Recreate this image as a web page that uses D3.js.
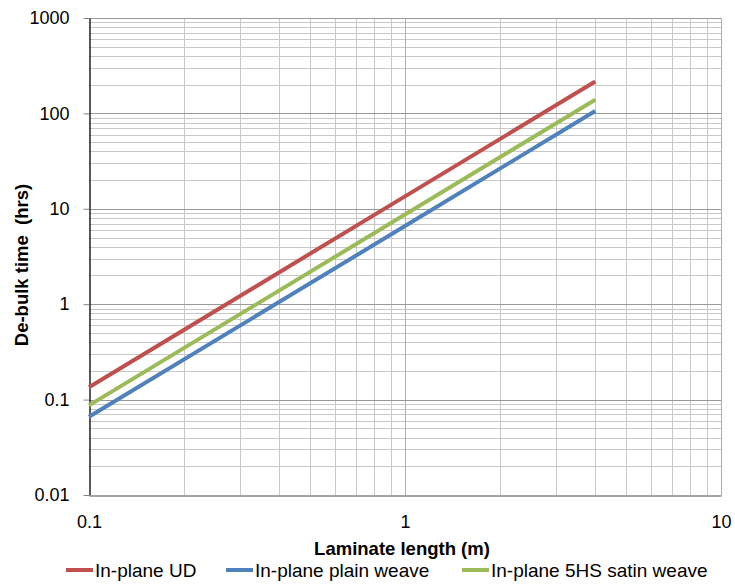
<!DOCTYPE html>
<html>
<head>
<meta charset="utf-8">
<script src="https://cdn.jsdelivr.net/npm/d3@7"></script>
<style>
  html, body { margin: 0; padding: 0; background: #fff; }
  svg { display: block; font-family: "Liberation Sans", Arial, sans-serif; }
</style>
</head>
<body>
<svg id="chart" width="735" height="584"></svg>
<script>
// ---- data ----
const lengths = [0.1, 1, 4];                 // laminate length (m)
const inPlaneUD = [0.135, 13.5, 216];        // de-bulk time (hrs)
const inPlanePlain = [0.066, 6.6, 106];
const inPlaneSatin = [0.087, 8.7, 139];
const seriesNames = ["In-plane UD", "In-plane plain weave", "In-plane 5HS satin weave"];
const seriesColors = ["#C0504D", "#4F81BD", "#9BBB59"];
const xTickValues = [0.1, 1, 10];
const xTickLabels = ["0.1", "1", "10"];
const yTickValues = [0.01, 0.1, 1, 10, 100, 1000];
const yTickLabels = ["0.01", "0.1", "1", "10", "100", "1000"];

(function () {
const svg = d3.select("#chart");
const pLeft = 89, pRight = 721, pTop = 18, pBottom = 495;

const x = d3.scaleLog().domain([0.1, 10]).range([pLeft, pRight]);
const y = d3.scaleLog().domain([0.01, 1000]).range([pBottom, pTop]);

// minor / major gridline values
const xMinor = [], yMinor = [];
for (let d = 0.1; d < 10; d *= 10) for (let k = 2; k <= 9; k++) xMinor.push(+(d * k).toPrecision(3));
for (let d = 0.01; d < 1000; d *= 10) for (let k = 2; k <= 9; k++) yMinor.push(+(d * k).toPrecision(3));

const grid = svg.append("g");
grid.selectAll("line.xmin").data(xMinor).join("line")
  .attr("x1", d => Math.round(x(d)) + 0.5).attr("x2", d => Math.round(x(d)) + 0.5)
  .attr("y1", pTop).attr("y2", pBottom)
  .attr("stroke", "#c8c8c8").attr("stroke-width", 1);
grid.selectAll("line.ymin").data(yMinor).join("line")
  .attr("y1", d => Math.round(y(d)) + 0.5).attr("y2", d => Math.round(y(d)) + 0.5)
  .attr("x1", pLeft).attr("x2", pRight)
  .attr("stroke", "#c8c8c8").attr("stroke-width", 1);
grid.selectAll("line.xmaj").data(xTickValues.slice(1)).join("line")
  .attr("x1", d => Math.round(x(d)) + 0.5).attr("x2", d => Math.round(x(d)) + 0.5)
  .attr("y1", pTop).attr("y2", pBottom)
  .attr("stroke", "#b0b0b0").attr("stroke-width", 1);
grid.selectAll("line.ymaj").data(yTickValues.slice(1)).join("line")
  .attr("y1", d => Math.round(y(d)) + 0.5).attr("y2", d => Math.round(y(d)) + 0.5)
  .attr("x1", pLeft).attr("x2", pRight)
  .attr("stroke", "#9a9a9a").attr("stroke-width", 1);

// y axis
const yAxis = d3.axisLeft(y).tickValues(yTickValues)
  .tickFormat((d, i) => yTickLabels[i]).tickSizeInner(6).tickSizeOuter(0).tickPadding(14);
const gy = svg.append("g").attr("transform", `translate(${pLeft + 0.5},0)`).call(yAxis);
gy.select(".domain").attr("stroke", "#000").attr("stroke-width", 1.3);
gy.selectAll(".tick line").attr("stroke", "#868686");
gy.selectAll(".tick text").attr("font-size", 18).attr("fill", "#000")
  .attr("font-family", "Liberation Sans, Arial, sans-serif");

// x axis
const xAxis = d3.axisBottom(x).tickValues(xTickValues)
  .tickFormat((d, i) => xTickLabels[i]).tickSize(0).tickPadding(20);
const gx = svg.append("g").attr("transform", `translate(0,${pBottom + 0.5})`).call(xAxis);
gx.select(".domain").attr("stroke", "#868686").attr("stroke-width", 1.3);
gx.selectAll(".tick text").attr("font-size", 18).attr("fill", "#000")
  .attr("font-family", "Liberation Sans, Arial, sans-serif");

// lines
const seriesData = [inPlaneUD, inPlanePlain, inPlaneSatin];
const line = d3.line().x(d => x(d[0])).y(d => y(d[1]));
seriesData.forEach((vals, i) => {
  svg.append("path")
    .datum(lengths.map((l, j) => [l, vals[j]]))
    .attr("d", line)
    .attr("fill", "none")
    .attr("stroke", seriesColors[i])
    .attr("stroke-width", 4)
    .attr("stroke-linecap", "butt");
});

// axis titles
svg.append("text")
  .attr("transform", `translate(28,265) rotate(-90)`)
  .attr("text-anchor", "middle")
  .attr("font-size", 18.5).attr("font-weight", "bold")
  .style("white-space", "pre")
  .text("De-bulk time  (hrs)");
svg.append("text")
  .attr("x", 402).attr("y", 555)
  .attr("text-anchor", "middle")
  .attr("font-size", 18.5).attr("font-weight", "bold")
  .text("Laminate length (m)");

// legend
const legendX = [66, 226, 462];
const lg = svg.append("g");
seriesNames.forEach((name, i) => {
  lg.append("line")
    .attr("x1", legendX[i]).attr("x2", legendX[i] + 27)
    .attr("y1", 570).attr("y2", 570)
    .attr("stroke", seriesColors[i]).attr("stroke-width", 4);
  lg.append("text")
    .attr("x", legendX[i] + 29).attr("y", 576.5)
    .attr("font-size", 19)
    .text(name);
});
})();
</script>
</body>
</html>
